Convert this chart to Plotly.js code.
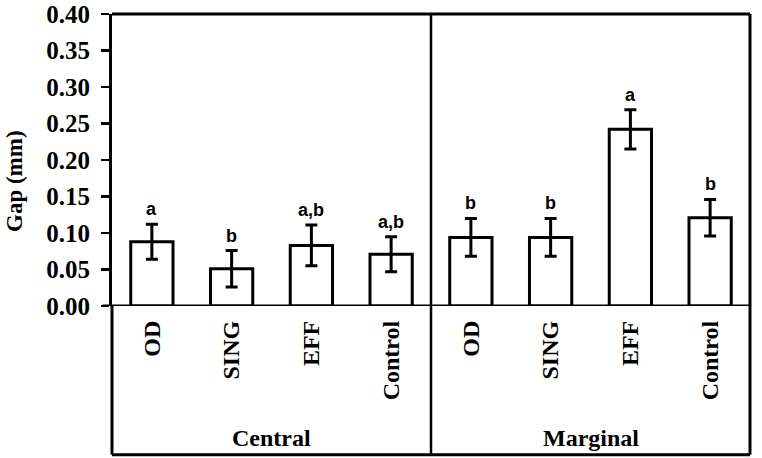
<!DOCTYPE html>
<html>
<head>
<meta charset="utf-8">
<script src="https://cdn.plot.ly/plotly-3.0.1.min.js"></script>
<style>
  body { margin: 0; background: #fff; }
  #chart { width: 762px; height: 458px; }
</style>
</head>
<body>
<div id="chart"></div>
<script>
// Gap (mm) per technique, central vs marginal region
const groups = ['Central', 'Marginal'];
const techniques = ['OD', 'SING', 'EFF', 'Control'];

const centralMeans = [0.088, 0.051, 0.083, 0.071];
const centralErr = [0.024, 0.025, 0.028, 0.024];
const centralLetters = ['a', 'b', 'a,b', 'a,b'];

const marginalMeans = [0.094, 0.094, 0.242, 0.121];
const marginalErr = [0.026, 0.026, 0.027, 0.025];
const marginalLetters = ['b', 'b', 'a', 'b'];

const yTicks = [0, 0.05, 0.1, 0.15, 0.2, 0.25, 0.3, 0.35, 0.4];

// flatten both groups onto one axis
const labels = techniques.concat(techniques);
const means = centralMeans.concat(marginalMeans);
const errs = centralErr.concat(marginalErr);
const letters = centralLetters.concat(marginalLetters);
const xPos = labels.map((_, i) => i);

const serif = 'Liberation Serif, Times New Roman, serif';
const sans = 'Liberation Sans, Arial, sans-serif';
const boxBottom = -0.509;

const margin = { l: 112, r: 12, t: 14, b: 152 };
const plotW = 762 - margin.l - margin.r;
const plotH = 458 - margin.t - margin.b;

const trace = {
    type: 'bar',
    x: xPos,
    y: means,
    width: 0.53,
    marker: { color: '#ffffff', line: { color: '#000000', width: 3 } },
    error_y: { type: 'data', array: errs, visible: true, color: '#000000', thickness: 3, width: 6 },
    hoverinfo: 'y'
};

// significance letters above the error bars
const letterNotes = xPos.map(i => ({
    x: i,
    y: means[i] + errs[i],
    xref: 'x', yref: 'y',
    text: '<b>' + letters[i] + '</b>',
    showarrow: false,
    yanchor: 'bottom',
    yshift: 3,
    font: { family: sans, size: 18, color: '#000' }
}));

const groupNotes = groups.map((g, k) => ({
    x: k * techniques.length + (techniques.length - 1) / 2,
    y: -0.452,
    xref: 'x', yref: 'paper',
    text: '<b>' + g + '</b>',
    showarrow: false,
    yanchor: 'middle',
    font: { family: serif, size: 24, color: '#000' }
}));

// y title sits a bit below the plot centre in the original
const yTitle = {
    x: (14 - margin.l) / plotW,
    y: 1 - (181 - margin.t) / plotH,
    xref: 'paper', yref: 'paper',
    xanchor: 'center', yanchor: 'middle',
    text: '<b>Gap (mm)</b>',
    textangle: -90,
    showarrow: false,
    font: { family: serif, size: 23, color: '#000' }
};

const layout = {
    width: 762,
    height: 458,
    margin: margin,
    paper_bgcolor: '#ffffff',
    plot_bgcolor: '#ffffff',
    showlegend: false,
    xaxis: {
        range: [-0.5, labels.length - 0.5],
        tickvals: xPos,
        ticktext: labels.map(l => '<b>' + l + '</b>'),
        tickangle: -90,
        ticks: '',
        ticklabelstandoff: 9,
        showgrid: false,
        zeroline: false,
        showline: false,
        tickfont: { family: serif, size: 24, color: '#000' },
        fixedrange: true
    },
    yaxis: {
        range: [0, 0.4],
        tickvals: yTicks,
        ticktext: yTicks.map(v => '<b>' + v.toFixed(2) + '</b>'),
        ticks: 'outside',
        ticklen: 8,
        tickwidth: 2.5,
        tickcolor: '#000',
        ticklabelstandoff: 6,
        showline: true,
        linecolor: '#000',
        linewidth: 3,
        showgrid: false,
        zeroline: false,
        tickfont: { family: serif, size: 25, color: '#000' },
        fixedrange: true
    },
    shapes: [
        // plot frame top and right
        { type: 'line', xref: 'paper', yref: 'paper', x0: 0, x1: 1, y0: 1, y1: 1, line: { color: '#000', width: 3 } },
        { type: 'line', xref: 'paper', yref: 'paper', x0: 1, x1: 1, y0: boxBottom, y1: 1, line: { color: '#000', width: 3 } },
        // zero line with tick stub to the left
        { type: 'line', xref: 'paper', yref: 'y', x0: -0.015, x1: 1, y0: 0, y1: 0, line: { color: '#000', width: 3 } },
        // label box below axis
        { type: 'line', xref: 'paper', yref: 'paper', x0: 0, x1: 0, y0: boxBottom, y1: 0, line: { color: '#000', width: 3 } },
        { type: 'line', xref: 'paper', yref: 'paper', x0: 0, x1: 1, y0: boxBottom, y1: boxBottom, line: { color: '#000', width: 3 } },
        // group divider
        { type: 'line', xref: 'x', yref: 'paper', x0: 3.5, x1: 3.5, y0: boxBottom, y1: 1, line: { color: '#000', width: 2.5 } }
    ],
    annotations: letterNotes.concat(groupNotes, [yTitle])
};

Plotly.newPlot('chart', [trace], layout, { displayModeBar: false, staticPlot: true });
</script>
</body>
</html>
